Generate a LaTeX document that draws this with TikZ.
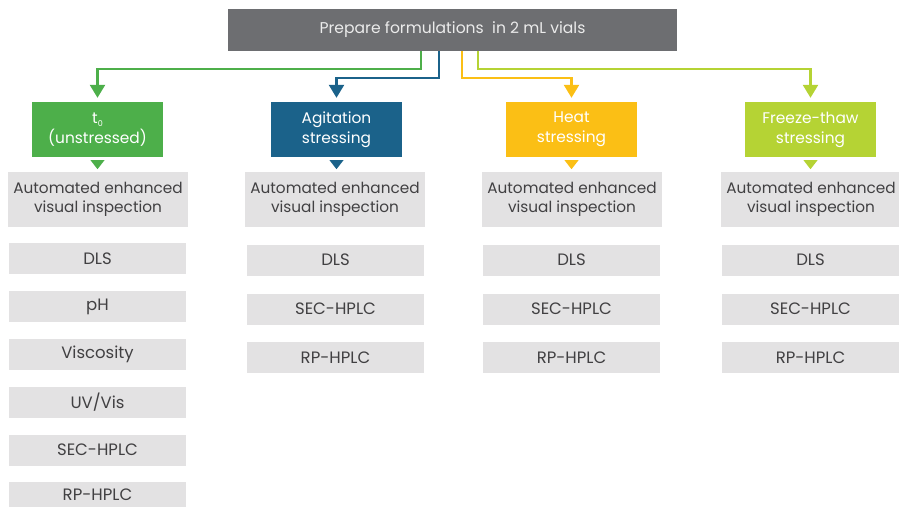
\documentclass[tikz,border=0pt]{standalone}
\usepackage{fontspec}
\setmainfont{Poppins}
\usetikzlibrary{arrows.meta}
\definecolor{topgray}{HTML}{6D6E71}
\definecolor{boxgray}{HTML}{E3E2E3}
\definecolor{txtgray}{HTML}{414042}
\definecolor{cgreen}{HTML}{4DAF4A}
\definecolor{cblue}{HTML}{1B628A}
\definecolor{corange}{HTML}{FBBF15}
\definecolor{cyg}{HTML}{B5D334}
\begin{document}
\begin{tikzpicture}[x=1pt,y=-1pt,
  topbox/.style={fill=topgray, text=white!92!black, minimum width=449pt, minimum height=42pt, inner sep=0pt, font=\fontsize{15.6}{18}\selectfont},
  stressbox/.style={fill=#1, text=white, minimum width=131pt, minimum height=55pt, inner sep=0pt, align=center, font=\fontsize{15.4}{20}\selectfont},
  avibox/.style={fill=boxgray, text=txtgray, minimum width=180pt, minimum height=55pt, inner sep=0pt, align=center, font=\fontsize{15.3}{19.5}\selectfont},
  testbox/.style={fill=boxgray, text=txtgray, minimum width=177pt, minimum height=31pt, inner sep=0pt, font=\fontsize{16.5}{18}\selectfont},
  conn/.style={draw=#1, line width=2.5pt, -{Triangle[width=15pt,length=13pt]}},
  tri/.style={fill=#1}
]
\useasboundingbox (0,0) rectangle (899,507);

\node[topbox] (top) at (452.5,30) {Prepare formulations\ \ in 2 mL vials};

\node[stressbox=cgreen] (g) at (97.5,129.5) {t\raisebox{-0.35ex}{\fontsize{8}{8}\selectfont 0}\\(unstressed)};
\node[stressbox=cblue] (b) at (336.5,129.5) {Agitation\\stressing};
\node[stressbox=corange] (o) at (571.5,129.5) {Heat\\stressing};
\node[stressbox=cyg] (y) at (810.5,129.5) {Freeze-thaw\\stressing};

\draw[conn=cgreen] ([xshift=-31.5pt]top.south) |- ([yshift=33pt]g.north) -- ([yshift=4pt]g.north);
\draw[conn=cblue] ([xshift=-13.5pt]top.south) |- ([yshift=24pt]b.north) -- ([yshift=4pt]b.north);
\draw[conn=corange] ([xshift=9.5pt]top.south) |- ([yshift=24pt]o.north) -- ([yshift=4pt]o.north);
\draw[conn=cyg] ([xshift=25.5pt]top.south) |- ([yshift=33pt]y.north) -- ([yshift=4pt]y.north);

\node[avibox] (a1) at (98,199.5) {Automated enhanced\\visual inspection};
\node[avibox] (a2) at (335,199.5) {Automated enhanced\\visual inspection};
\node[avibox] (a3) at (572,199.5) {Automated enhanced\\visual inspection};
\node[avibox] (a4) at (811,199.5) {Automated enhanced\\visual inspection};

\foreach \n/\c in {g/cgreen,b/cblue,o/corange,y/cyg}{
  \fill[tri=\c] ([xshift=-7pt,yshift=-3pt]\n.south) -- ([xshift=7pt,yshift=-3pt]\n.south) -- ([yshift=-12pt]\n.south) -- cycle;
}

\node[testbox] (d1) at (97.5,258.5) {DLS};
\node[testbox] (p1) at (97.5,306.5) {pH};
\node[testbox] (v1) at (97.5,354.5) {Viscosity};
\node[testbox] (u1) at (97.5,402) {UV/Vis};
\node[testbox] (s1) at (97.5,450) {SEC-HPLC};
\node[testbox, minimum height=25pt] (r1) at (97.5,494.5) {RP-HPLC};

\node[testbox] (d2) at (335.5,260) {DLS};
\node[testbox] (s2) at (335.5,309) {SEC-HPLC};
\node[testbox] (r2) at (335.5,357.5) {RP-HPLC};

\node[testbox] (d3) at (571.5,260) {DLS};
\node[testbox] (s3) at (571.5,309) {SEC-HPLC};
\node[testbox] (r3) at (571.5,357.5) {RP-HPLC};

\node[testbox] (d4) at (810.5,260) {DLS};
\node[testbox] (s4) at (810.5,309) {SEC-HPLC};
\node[testbox] (r4) at (810.5,357.5) {RP-HPLC};
\end{tikzpicture}
\end{document}
